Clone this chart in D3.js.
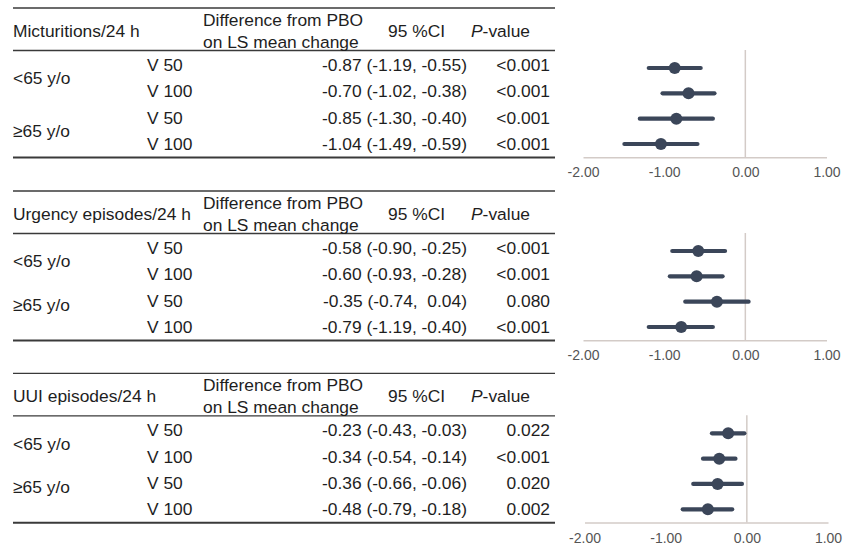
<!DOCTYPE html>
<html>
<head>
<meta charset="utf-8">
<script src="https://cdn.jsdelivr.net/npm/d3@7"></script>
<style>
  html, body { margin: 0; padding: 0; background: #fff; }
  svg { display: block; }
  text { font-family: "Liberation Sans", Arial, sans-serif; white-space: pre; }
</style>
</head>
<body>
<svg id="chart" width="851" height="547"></svg>
<script>
// ---------------- DATA ----------------
const panelTitles = ["Micturitions/24 h", "Urgency episodes/24 h", "UUI episodes/24 h"];
const ageGroups = ["<65 y/o", "\u226565 y/o"];
const doses = ["V 50", "V 100", "V 50", "V 100"];
const estimates = [
  [-0.87, -0.70, -0.85, -1.04],
  [-0.58, -0.60, -0.35, -0.79],
  [-0.23, -0.34, -0.36, -0.48]
];
const ciLower = [
  [-1.19, -1.02, -1.30, -1.49],
  [-0.90, -0.93, -0.74, -1.19],
  [-0.43, -0.54, -0.66, -0.79]
];
const ciUpper = [
  [-0.55, -0.38, -0.40, -0.59],
  [-0.25, -0.28, 0.04, -0.40],
  [-0.03, -0.14, -0.06, -0.18]
];
const pValues = [
  ["<0.001", "<0.001", "<0.001", "<0.001"],
  ["<0.001", "<0.001", "0.080", "<0.001"],
  ["0.022", "<0.001", "0.020", "0.002"]
];
const axisTicks = [-2, -1, 0, 1];
const headerDiff = ["Difference from PBO", "on LS mean change"];
const headerCI = "95 %CI";

// ---------------- LAYOUT ----------------
const panelTop = [8, 191, 373.3];
const xShift = [0, 0, 1.5];
const ageRowPos = [[0.5, 2.5], [0.5, 2.15], [0.5, 2.15]];
const tableLeft = 13, tableRight = 555;
const colDose = 147, colDiffHead = 203, colCIHead = 388, colPHead = 471;
const colValueRight = 467, colPRight = 550;
const fs = 17.4;
const textColor = "#1e1e1e";
const markColor = "#3b4659";
const axisColor = "#d3cbc7";

const svg = d3.select("#chart");
const fmt = v => v.toFixed(2);

panelTitles.forEach((title, p) => {
  const g = svg.append("g").attr("transform", `translate(0,${panelTop[p]})`);
  const rowY = d3.scalePoint().domain(d3.range(doses.length)).range([57, 136]);

  // lines
  g.append("line").attr("x1", tableLeft).attr("x2", tableRight).attr("y1", 0).attr("y2", 0)
    .attr("stroke", "#3a3a3a").attr("stroke-width", 1.3);
  g.append("line").attr("x1", tableLeft).attr("x2", tableRight).attr("y1", 42.5).attr("y2", 42.5)
    .attr("stroke", "#3a3a3a").attr("stroke-width", 1.3);
  g.append("line").attr("x1", tableLeft).attr("x2", tableRight).attr("y1", 149.5).attr("y2", 149.5)
    .attr("stroke", "#3a3a3a").attr("stroke-width", 2);

  // headers
  const hdr = (txt, x, y, anchor) => g.append("text").attr("x", x).attr("y", y).attr("dy", "0.35em")
    .attr("font-size", fs).attr("fill", textColor).attr("text-anchor", anchor || "start").text(txt);
  hdr(title, tableLeft, 23);
  hdr(headerDiff[0], colDiffHead, 12);
  hdr(headerDiff[1], colDiffHead, 33.5);
  hdr(headerCI, colCIHead, 23);
  const pt = g.append("text").attr("x", colPHead).attr("y", 23).attr("dy", "0.35em")
    .attr("font-size", fs).attr("fill", textColor);
  pt.append("tspan").attr("font-style", "italic").text("P");
  pt.append("tspan").text("-value");

  // age group labels
  ageGroups.forEach((a, i) => {
    const pos = ageRowPos[p][i];
    const y = rowY(0) + pos * rowY.step();
    hdr(a, tableLeft, y);
  });

  // rows
  doses.forEach((d, i) => {
    const y = rowY(i);
    hdr(d, colDose, y);
    const up = ciUpper[p][i];
    const upStr = up >= 0 ? " " + fmt(up) : fmt(up);
    hdr(`${fmt(estimates[p][i])} (${fmt(ciLower[p][i])}, ${upStr})`, colValueRight, y, "end");
    hdr(pValues[p][i], colPRight, y, "end");
  });

  // forest plot
  const x = d3.scaleLinear().domain([-2, 1]).range([583 + xShift[p], 826.5 + xShift[p]]);
  const fy = d3.scalePoint().domain(d3.range(doses.length)).range([60, 136]);
  const axisY = 149.3;

  g.append("line").attr("x1", x(0)).attr("x2", x(0)).attr("y1", 42).attr("y2", axisY)
    .attr("stroke", axisColor).attr("stroke-width", 1.5);

  const ax = g.append("g").attr("transform", `translate(0,${axisY})`)
    .call(d3.axisBottom(x).tickValues(axisTicks).tickSize(0).tickPadding(10).tickFormat(fmt));
  ax.select(".domain").attr("stroke", axisColor).attr("stroke-width", 1.5);
  ax.selectAll("text").attr("font-size", 14).attr("fill", "#555")
    .attr("font-family", "'Liberation Sans', Arial, sans-serif");

  const rows = g.append("g").selectAll("g").data(d3.range(doses.length)).join("g");
  rows.append("line")
    .attr("x1", i => x(ciLower[p][i])).attr("x2", i => x(ciUpper[p][i]))
    .attr("y1", i => fy(i)).attr("y2", i => fy(i))
    .attr("stroke", markColor).attr("stroke-width", 4.2).attr("stroke-linecap", "round");
  rows.append("circle")
    .attr("cx", i => x(estimates[p][i])).attr("cy", i => fy(i)).attr("r", 6)
    .attr("fill", markColor);
});
</script>
</body>
</html>
